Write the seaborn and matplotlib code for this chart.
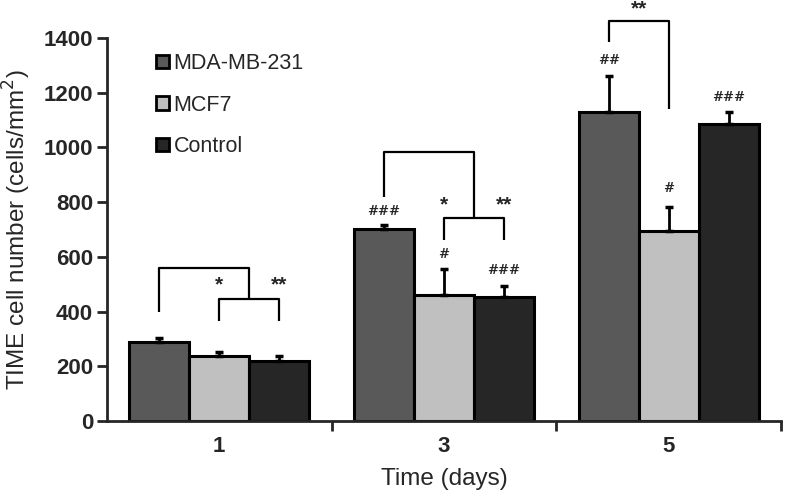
import numpy as np
import pandas as pd
import matplotlib
matplotlib.use("Agg")
import matplotlib.pyplot as plt
import seaborn as sns
from matplotlib.patches import Patch

days = ["1", "3", "5"]
cells = ["MDA-MB-231", "MCF7", "Control"]
colors = ["#595959", "#c0c0c0", "#262626"]

mda = [288, 703, 1128]
mcf7 = [238, 459, 696]
control = [220, 453, 1085]
mda_err = [15, 12, 132]
mcf7_err = [15, 95, 85]
control_err = [17, 40, 45]

# marks above each bar (day index, cell index, text, y)
hash_marks = [(1, 0, "###", 765), (1, 1, "#", 607), (1, 2, "###", 549),
              (2, 0, "##", 1319), (2, 1, "#", 850), (2, 2, "###", 1183)]

sns.set_style("ticks")
plt.rcParams['font.family'] = ['Liberation Sans', 'DejaVu Sans']

rows = []
vals = [mda, mcf7, control]
for ci, c in enumerate(cells):
    for di, d in enumerate(days):
        rows.append({"day": d, "cell": c, "value": vals[ci][di]})
df = pd.DataFrame(rows)

fig = plt.figure(figsize=(7.86, 4.94), dpi=100)
ax = fig.add_axes([0.136, 0.148, 0.8576, 0.775])

sns.barplot(data=df, x="day", y="value", hue="cell", order=days, hue_order=cells,
            palette=colors, edgecolor="black", linewidth=2.2, errorbar=None,
            legend=False, ax=ax, width=0.8)

errs = [mda_err, mcf7_err, control_err]
bar_conts = list(ax.containers)
centers = []
for ci, cont in enumerate(bar_conts):
    xs = [p.get_x() + p.get_width() / 2 for p in cont.patches]
    centers.append(xs)
    ax.errorbar(xs, vals[ci], yerr=[np.zeros(3), errs[ci]], fmt="none",
                ecolor="black", elinewidth=2, capsize=3, capthick=2.5, zorder=3)

def line(xs, ys):
    ax.plot(xs, ys, color="black", lw=1.6, clip_on=False, solid_capstyle="butt")

# day 1 brackets
x0, x1, x2 = centers[0][0], centers[1][0], centers[2][0]
xm = (x1 + x2) / 2
line([x0, x0, xm, xm], [400, 559, 559, 446])
line([x1, x1, x2, x2], [365, 446, 446, 365])
ax.text(x1, 497, "*", ha="center", va="center", fontsize=15, fontweight="bold")
ax.text(x2, 497, "**", ha="center", va="center", fontsize=15, fontweight="bold")

# day 3 brackets
x0, x1, x2 = centers[0][1], centers[1][1], centers[2][1]
xm = (x1 + x2) / 2
line([x0, x0, xm, xm], [818, 982, 982, 741])
line([x1, x1, x2, x2], [662, 741, 741, 662])
ax.text(x1, 789, "*", ha="center", va="center", fontsize=15, fontweight="bold")
ax.text(x2, 789, "**", ha="center", va="center", fontsize=15, fontweight="bold")

# day 5 bracket
x0, x1 = centers[0][2], centers[1][2]
line([x0, x0, x1, x1], [1384, 1462, 1462, 1140])
ax.text((x0 + x1) / 2, 1505, "**", ha="center", va="center", fontsize=15,
        fontweight="bold", clip_on=False)

for di, ci, txt, y in hash_marks:
    ax.text(centers[ci][di], y, txt, ha="center", va="center", fontsize=9.5,
            family="DejaVu Serif", fontweight="bold")

ax.set_xlim(-0.5, 2.5)
ax.set_ylim(0, 1400)
ax.set_yticks(range(0, 1401, 200))
ax.set_xticks([0, 1, 2])
ax.set_xticks([0.5, 1.5, 2.5], minor=True)
ax.tick_params(axis="x", which="major", length=0, pad=11, labelsize=16)
ax.tick_params(axis="x", which="minor", length=7, width=2, direction="out")
ax.tick_params(axis="y", length=7, width=2, labelsize=16, pad=3)
for lab in ax.get_xticklabels() + ax.get_yticklabels():
    lab.set_fontweight("bold")
ax.set_xlabel("Time (days)", fontsize=17.5, labelpad=8)
ax.set_ylabel("TIME cell number (cells/mm$^2$)", fontsize=17.5)
ax.yaxis.set_label_coords(-0.11, 0.5)
sns.despine(ax=ax)
for s in ["left", "bottom"]:
    ax.spines[s].set_linewidth(2)

handles = [Patch(facecolor=c, edgecolor="black", linewidth=2) for c in colors]
ax.legend(handles, cells, loc="upper left", bbox_to_anchor=(0.06, 0.983),
          frameon=False, fontsize=15.5, handlelength=0.6, handleheight=0.6,
          handletextpad=0.22, labelspacing=0.95, borderaxespad=0)

fig.savefig("out.png", dpi=100)
